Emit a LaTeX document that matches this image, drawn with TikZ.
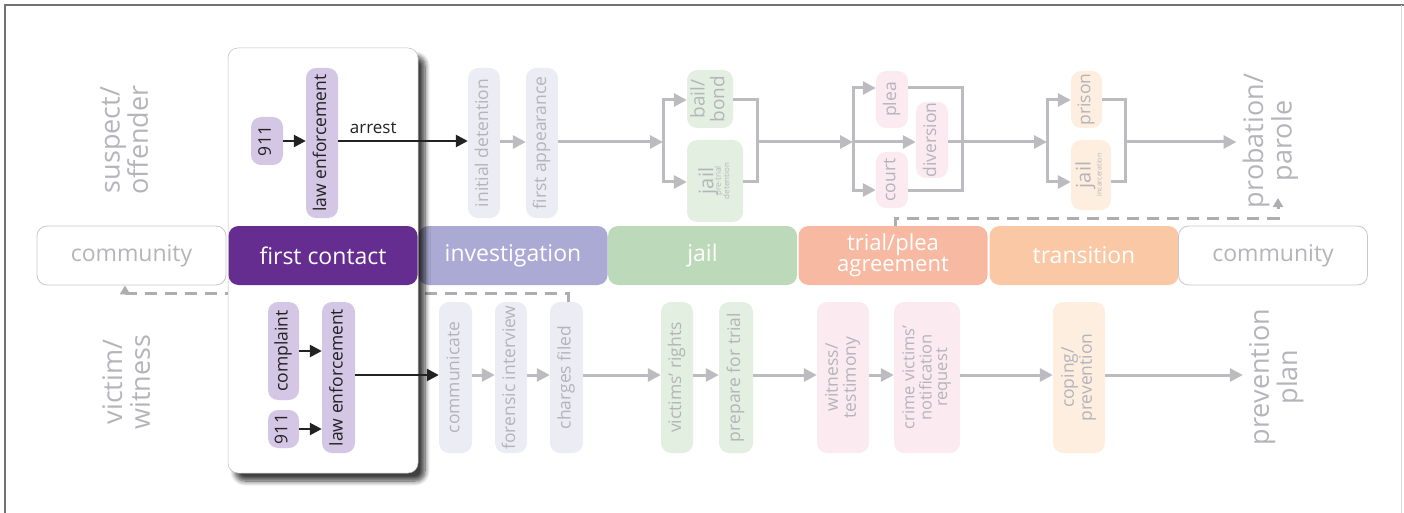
\documentclass[tikz,border=0pt]{standalone}
\usepackage{fontspec}
\setmainfont{Open Sans}
\usetikzlibrary{arrows.meta,shadows.blur}
\definecolor{fcpurple}{HTML}{662D91}
\definecolor{invcol}{HTML}{AAAAD4}
\definecolor{jailcol}{HTML}{BCDAB9}
\definecolor{trialcol}{HTML}{F7B9A1}
\definecolor{transcol}{HTML}{FAC8A5}
\definecolor{commborder}{HTML}{C8C8CC}
\definecolor{fadetext}{HTML}{B4B4BA}
\definecolor{fcpillcol}{HTML}{D4C7E5}
\definecolor{invpill}{HTML}{ECECF5}
\definecolor{jailpill}{HTML}{E3F0E1}
\definecolor{trialpill}{HTML}{FBEBF1}
\definecolor{transpill}{HTML}{FDEEDF}
\definecolor{garrowcol}{HTML}{BBBBC0}
\definecolor{dashcol}{HTML}{AEAEB2}
\definecolor{darktext}{HTML}{222222}
\newcommand{\rtext}[1]{\rotatebox{90}{\begin{tabular}{@{}c@{}}#1\end{tabular}}}
\begin{document}
\begin{tikzpicture}[x=1pt,y=-1pt,
  phase/.style={rounded corners=10pt, inner sep=0pt, minimum height=59, minimum width=189,
    text=white, font=\fontsize{23}{20}\selectfont, align=center},
  commbox/.style={phase, draw=commborder, line width=0.8pt, fill=white, text=fadetext,
    font=\fontsize{23}{20}\selectfont},
  pill/.style={rounded corners=10pt, inner sep=0pt, align=center, minimum height=151,
    font=\fontsize{17.5}{17}\selectfont, text=fadetext},
  fcp/.style={pill, fill=fcpillcol, text=darktext},
  ipill/.style={pill, fill=invpill},
  jpill/.style={pill, fill=jailpill},
  tpill/.style={pill, fill=trialpill},
  xpill/.style={pill, fill=transpill},
  rowlbl/.style={inner sep=0pt, text=fadetext, font=\fontsize{27}{26}\selectfont},
  panelbox/.style={rounded corners=10pt, fill=white, draw=black!25, line width=0.5pt,
    minimum width=190, minimum height=425, inner sep=0pt,
    blur shadow={shadow xshift=7pt, shadow yshift=-8pt, shadow blur steps=8, shadow blur radius=5pt, shadow opacity=75}},
  gline/.style={draw=garrowcol, line width=3pt},
  garrow/.style={gline, -{Triangle[length=13pt,width=13pt]}},
  karrow/.style={draw=darktext, line width=2.5pt, -{Triangle[length=12pt,width=12pt]}},
  dline/.style={draw=dashcol, line width=3pt, dash pattern=on 12pt off 8pt},
  darrow/.style={dline, -{Triangle[length=9pt,width=10pt]}}
]
\useasboundingbox (0,0) rectangle (1404,513);
% frame
\draw[draw=black!55, line width=1.2pt] (5,513) -- (5,5) -- (1404,5);
\draw[draw=black!15, line width=1pt] (1401,5) -- (1401,513);

% phase band
\node[commbox] (commL) at (131.5,255.5) {community};
\node[phase, fill=invcol] (inv) at (513,255.5) {investigation};
\node[phase, fill=jailcol] (jail) at (702.5,255.5) {jail};
\node[phase, fill=trialcol, font=\fontsize{22}{18.5}\selectfont] (trial) at (893,255.5) {trial/plea\\agreement};
\node[phase, fill=transcol] (trans) at (1084,255.5) {transition};
\node[commbox] (commR) at (1273,255.5) {community};

% row labels
\node[rowlbl] (suspect) at (128,140) {\rtext{suspect/\\offender}};
\node[rowlbl] (victim) at (130,382) {\rtext{victim/\\witness}};
\node[rowlbl, inner sep=6pt] (prob) at (1271,141) {\rtext{probation/\\parole}};
\node[rowlbl, inner sep=6pt] (prev) at (1277,377) {\rtext{prevention\\plan}};

% bottom row pills (faded)
\node[ipill, minimum width=33] (bcomm) at (455.5,377.5) {\rtext{communicate}};
\node[ipill, minimum width=32] (bfor) at (511,377.5) {\rtext{forensic interview}};
\node[ipill, minimum width=33] (bchg) at (566.5,377.5) {\rtext{charges filed}};
\node[jpill, minimum width=32] (bvr) at (677,377.5) {\rtext{victims' rights}};
\node[jpill, minimum width=34] (bprep) at (736,377.5) {\rtext{prepare for trial}};
\node[tpill, minimum width=52] (bwit) at (843,377.5) {\rtext{witness/\\testimony}};
\node[tpill, minimum width=66, font=\fontsize{16.5}{15.5}\selectfont] (bcvn) at (927,377.5) {\rtext{crime victims'\\notification\\request}};
\node[xpill, minimum width=52] (bcop) at (1079,377.5) {\rtext{coping/\\prevention}};

% dashed returns
\coordinate (dA) at (568,293);
\coordinate (dB) at (125,293);
\draw[darrow] (bchg.north -| dA) -- (dA) -- (dB) -- (commL.south -| dB);
\coordinate (dC) at (895,218);
\coordinate (dD) at (1278,218);
\coordinate (dE) at (1278,198);
\draw[darrow] (trial.north -| dC) -- (dC) -- (dD) -- (dE);

% top row pills (faded)
\node[ipill, minimum width=32, minimum height=150] (tinit) at (484,143) {\rtext{initial detention}};
\node[ipill, minimum width=32, minimum height=150] (tfirst) at (542,143) {\rtext{first appearance}};
\node[jpill, minimum width=46, minimum height=58, font=\fontsize{19}{18}\selectfont] (tbail) at (710,99) {\rtext{bail/\\bond}};
\node[jpill, minimum width=56, minimum height=82] (tjail) at (715,181)
  {\rotatebox{90}{\begin{tabular}{@{}c@{}}\fontsize{20}{18}\selectfont jail\\[-5pt]
   \fontsize{8}{8}\selectfont\begin{tabular}{@{}c@{}}pre-trial\\detention\end{tabular}\end{tabular}}};
\node[tpill, minimum width=32, minimum height=57] (plea) at (892,99.5) {\rtext{plea}};
\node[tpill, minimum width=32, minimum height=76] (div) at (932,140) {\rtext{diversion}};
\node[tpill, minimum width=32, minimum height=56] (court) at (892,180) {\rtext{court}};
\node[xpill, minimum width=31, minimum height=57] (prison) at (1086.5,99.5) {\rtext{prison}};
\node[xpill, minimum width=40, minimum height=70] (tjinc) at (1091,175)
  {\rotatebox{90}{\begin{tabular}{@{}c@{}}\fontsize{20}{18}\selectfont jail\\[-6pt]
   \fontsize{7}{7}\selectfont incarceration\end{tabular}}};

% top row gray flow
\draw[garrow] (tinit.east |- 0,142) -- (tfirst.west |- 0,142);
\coordinate (jb) at (663,142);
\coordinate (jr) at (757,142);
\draw[garrow] (tfirst.east |- jb) -- (jb);
\draw[gline, line cap=rect] (jb |- 0,100) -- (jb |- 0,182);
\draw[garrow] (jb |- 0,100) -- (tbail.west |- 0,100);
\draw[garrow] (jb |- 0,182) -- (tjail.west |- 0,182);
\draw[gline] (tbail.east |- 0,100) -| (jr) |- (tjail.east |- 0,182);
\coordinate (tb) at (853,142);
\coordinate (tr) at (962,142);
\draw[garrow] (jr) -- (tb);
\draw[gline, line cap=rect] (tb |- 0,88) -- (tb |- 0,190);
\draw[garrow] (tb |- 0,88) -- (plea.west |- 0,88);
\draw[garrow] (tb |- 0,190) -- (court.west |- 0,190);
\draw[garrow] (tb) -- (div.west |- tb);
\draw[gline] (plea.east |- 0,88) -| (tr) |- (court.east |- 0,190);
\coordinate (xb) at (1047,142);
\coordinate (xr) at (1125,142);
\draw[garrow] (div.east |- xb) -- (xb);
\draw[gline, line cap=rect] (xb |- 0,100) -- (xb |- 0,182);
\draw[garrow] (xb |- 0,100) -- (prison.west |- 0,100);
\draw[garrow] (xb |- 0,182) -- (tjinc.west |- 0,182);
\draw[gline] (prison.east |- 0,100) -| (xr) |- (tjinc.east |- 0,182);
\draw[garrow] (xr) -- (prob.west |- xr);

% bottom row gray flow
\coordinate (brow) at (0,375);
\draw[garrow] (bcomm.east |- brow) -- (bfor.west |- brow);
\draw[garrow] (bfor.east |- brow) -- (bchg.west |- brow);
\draw[garrow] (bchg.east |- brow) -- (bvr.west |- brow);
\draw[garrow] (bvr.east |- brow) -- (bprep.west |- brow);
\draw[garrow] (bprep.east |- brow) -- (bwit.west |- brow);
\draw[garrow] (bwit.east |- brow) -- (bcvn.west |- brow);
\draw[garrow] (bcvn.east |- brow) -- (bcop.west |- brow);
\draw[garrow] (bcop.east |- brow) -- (prev.west |- brow);

% first contact panel
\node[panelbox] (panel) at (323,260.5) {};
\node[phase, fill=fcpurple] (fc) at (323,255.5) {first contact};

% first contact contents
\node[fcp, minimum width=32, minimum height=48] (t911) at (267,141) {\rtext{911}};
\node[fcp, minimum width=32, minimum height=150] (tlaw) at (322,143) {\rtext{law enforcement}};
\draw[karrow] (t911.east) -- (tlaw.west |- t911.east);
\draw[karrow] (tlaw.east |- t911.east) -- node[above=3pt, pos=0.27, text=darktext, font=\fontsize{17}{17}\selectfont] {arrest} (tinit.west |- t911.east);

\node[fcp, minimum width=31, minimum height=98] (bcomp) at (283.5,351) {\rtext{complaint}};
\node[fcp, minimum width=31, minimum height=38] (b911) at (283.5,429) {\rtext{911}};
\node[fcp, minimum width=33, minimum height=151] (blaw) at (338.5,377.5) {\rtext{law enforcement}};
\draw[karrow] (bcomp.east) -- (bcomp.east -| blaw.west);
\draw[karrow] (b911.east) -- (b911.east -| blaw.west);
\draw[karrow] (blaw.east |- brow) -- (bcomm.west |- brow);
\end{tikzpicture}
\end{document}
